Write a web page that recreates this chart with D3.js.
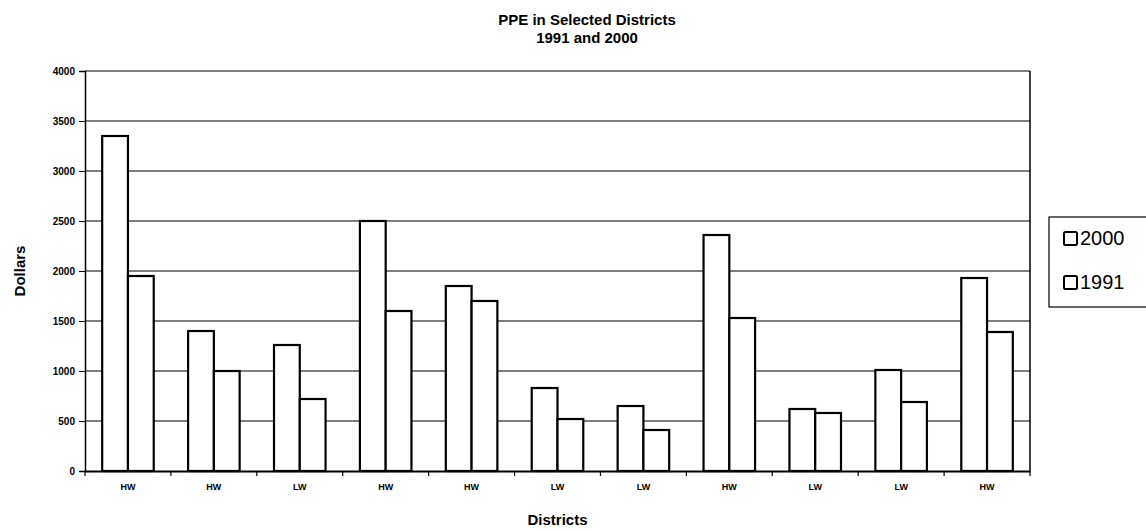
<!DOCTYPE html>
<html>
<head>
<meta charset="utf-8">
<script src="https://cdn.jsdelivr.net/npm/d3@7"></script>
<style>
  body { margin: 0; background: #fff; }
  text { font-family: "Liberation Sans", Arial, sans-serif; fill: #000; }
</style>
</head>
<body>
<svg id="chart" width="1146" height="531"></svg>
<script>
// data
const districts = ["HW", "HW", "LW", "HW", "HW", "LW", "LW", "HW", "LW", "LW", "HW"];
const ppe2000 = [3350, 1400, 1260, 2500, 1850, 830, 650, 2360, 620, 1010, 1930];
const ppe1991 = [1950, 1000, 720, 1600, 1700, 520, 410, 1530, 580, 690, 1390];
const yTicks = [0, 500, 1000, 1500, 2000, 2500, 3000, 3500, 4000];
const seriesNames = ["2000", "1991"];

const svg = d3.select("#chart");
const margin = { top: 71, right: 116, bottom: 60, left: 85 };
const chartWidth = 1146 - margin.left - margin.right;
const chartHeight = 531 - margin.top - margin.bottom;

const g = svg.append("g").attr("transform", `translate(${margin.left},${margin.top})`);

const rows = districts.map((d, i) => ({ i: i, name: d, values: [ppe2000[i], ppe1991[i]] }));

const x0 = d3.scaleBand().domain(d3.range(districts.length)).range([0, chartWidth]).paddingInner(0).paddingOuter(0);
const x1 = d3.scaleBand().domain([0, 1]).range([x0.bandwidth() * 0.2, x0.bandwidth() * 0.8]).padding(0);
const y = d3.scaleLinear().domain([0, 4000]).range([chartHeight, 0]);

// gridlines
g.selectAll(".grid")
  .data(yTicks.slice(1))
  .enter()
  .append("line")
  .attr("x1", 0).attr("x2", chartWidth)
  .attr("y1", (d) => y(d)).attr("y2", (d) => y(d))
  .attr("stroke", "#000").attr("stroke-width", 1.1);

// right border
g.append("line")
  .attr("x1", chartWidth).attr("x2", chartWidth)
  .attr("y1", 0).attr("y2", chartHeight)
  .attr("stroke", "#000").attr("stroke-width", 1.5);

// bars
const groups = g.selectAll(".grp").data(rows).enter().append("g")
  .attr("transform", (d) => `translate(${x0(d.i)},0)`);

groups.selectAll("rect")
  .data((d) => d.values.map((v, k) => ({ k: k, v: v })))
  .enter()
  .append("rect")
  .attr("x", (d) => x1(d.k))
  .attr("y", (d) => y(d.v))
  .attr("width", x1.bandwidth())
  .attr("height", (d) => chartHeight - y(d.v))
  .attr("fill", "#fff")
  .attr("stroke", "#000")
  .attr("stroke-width", 2.2);

// y axis
const yAxis = g.append("g")
  .call(d3.axisLeft(y).tickValues(yTicks).tickFormat(d3.format("d")).tickSize(6).tickPadding(4));
yAxis.select(".domain").attr("stroke-width", 1.5);
yAxis.selectAll("text").style("font-size", "10px").style("font-weight", "bold");

// x axis
const xAxis = g.append("g")
  .attr("transform", `translate(0,${chartHeight})`)
  .call(d3.axisBottom(x0).tickFormat((i) => districts[i]).tickSize(0).tickPadding(13));
xAxis.select(".domain").attr("stroke-width", 2);
xAxis.selectAll("text").style("font-size", "9px").style("font-weight", "bold");

// x ticks at category boundaries
g.selectAll(".xtick")
  .data(d3.range(districts.length + 1))
  .enter()
  .append("line")
  .attr("x1", (i) => i * x0.step()).attr("x2", (i) => i * x0.step())
  .attr("y1", chartHeight).attr("y2", chartHeight + 5)
  .attr("stroke", "#000").attr("stroke-width", 1.2);

// titles
svg.append("text").attr("x", 587).attr("y", 25).attr("text-anchor", "middle")
  .style("font-size", "15px").style("font-weight", "bold").text("PPE in Selected Districts");
svg.append("text").attr("x", 587).attr("y", 43).attr("text-anchor", "middle")
  .style("font-size", "15px").style("font-weight", "bold").text("1991 and 2000");

svg.append("text").attr("x", margin.left + chartWidth / 2).attr("y", 525).attr("text-anchor", "middle")
  .style("font-size", "15px").style("font-weight", "bold").text("Districts");

svg.append("text").attr("transform", `translate(25,${margin.top + chartHeight / 2}) rotate(-90)`)
  .attr("text-anchor", "middle")
  .style("font-size", "15px").style("font-weight", "bold").text("Dollars");

// legend
const legend = svg.append("g").attr("transform", "translate(1049,217)");
legend.append("rect").attr("width", 110).attr("height", 90)
  .attr("fill", "#fff").attr("stroke", "#000").attr("stroke-width", 1.2);
const items = legend.selectAll(".item").data(seriesNames).enter().append("g")
  .attr("transform", (d, i) => `translate(15,${15 + i * 44})`);
items.append("rect").attr("width", 13).attr("height", 13).attr("rx", 1.5)
  .attr("fill", "#fff").attr("stroke", "#000").attr("stroke-width", 2);
items.append("text").attr("x", 16).attr("y", 13)
  .style("font-size", "20px").text((d) => d);
</script>
</body>
</html>
